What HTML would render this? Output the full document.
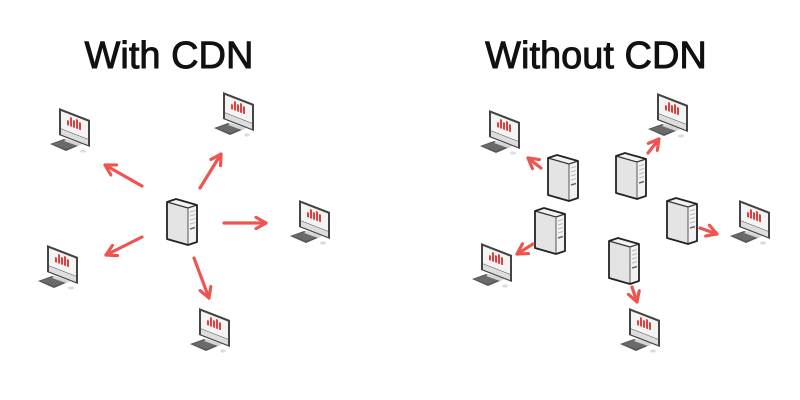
<!DOCTYPE html>
<html><head><meta charset="utf-8"><style>
html,body{margin:0;padding:0;background:#fff;width:800px;height:400px;overflow:hidden}
svg{display:block}
</style></head><body>
<svg width="800" height="400" viewBox="0 0 800 400" xmlns="http://www.w3.org/2000/svg">
<defs>
<symbol id="pc" viewBox="0 0 46 50" width="46" height="50" overflow="visible">
  <polygon points="0,36 14,31 30,37 16,43" fill="#555"/>
  <polygon points="2,36 14,32 27,37 16,41" fill="#6a6a6a"/>
  <ellipse cx="33" cy="43" rx="3" ry="1.6" fill="#ddd"/>
  <polygon points="20,27 28,30 28,34 20,31" fill="#bbb"/>
  <polygon points="17,31 32,36 28,38 14,33" fill="#d4d4d4"/>
  <polygon points="9,0 40,12 40,39 9,27" fill="#444"/>
  <polygon points="11,3 38,13.5 38,31 11,20.5" fill="#f4f4f4"/>
  <polygon points="11,21 38,31.5 38,37 11,26.5" fill="#ddd"/>
  <g fill="#e0403c">
    <polygon points="17,12 19,12.8 19,17.8 17,17"/>
    <polygon points="20,9 22,9.8 22,18.9 20,18.1"/>
    <polygon points="23,12 25,12.8 25,20 23,19.2"/>
    <polygon points="26,11 28,11.8 28,21.2 26,20.4"/>
    <polygon points="29,14 31,14.8 31,22.3 29,21.5"/>
  </g>
</symbol>
<symbol id="srv" viewBox="0 0 32 48" width="32" height="48" overflow="visible">
  <polygon points="1,4 10,1 31,7 31,44 22,47 1,41" fill="#f2f2f2"/>
  <polygon points="1,4 22,10 22,47 1,41" fill="#e4e4e4"/>
  <polyline points="1,4 22,10 31,7" fill="none" stroke="#333" stroke-width="1.2"/>
  <line x1="22" y1="10" x2="22" y2="47" stroke="#555" stroke-width="1"/>
  <polygon points="1,4 10,1 31,7 31,44 22,47 1,41" fill="none" stroke="#222" stroke-width="1.8" stroke-linejoin="round"/>
  <g stroke="#bbb" stroke-width="1">
    <line x1="24" y1="14" x2="29" y2="12.5"/>
    <line x1="24" y1="18" x2="29" y2="16.5"/>
    <line x1="24" y1="22" x2="29" y2="20.5"/>
    <line x1="24" y1="26" x2="29" y2="24.5"/>
  </g>
  <line x1="24" y1="31" x2="29" y2="29.5" stroke="#666" stroke-width="1.5"/>
</symbol>
<marker id="ah" viewBox="0 0 10 10" refX="8" refY="5" markerWidth="4.5" markerHeight="4.5" orient="auto">
  <path d="M1,1 L8,5 L1,9" fill="none" stroke="#ee5550" stroke-width="2.2" stroke-linecap="round" stroke-linejoin="round"/>
</marker>
</defs>

<g font-family="Liberation Sans, sans-serif" font-size="38" fill="#111" stroke="#111" stroke-width="0.9" text-anchor="middle">
  <text x="169" y="68">With CDN</text>
  <text x="596" y="68">Without CDN</text>
</g>

<!-- Left panel -->
<use href="#pc" x="50" y="108"/>
<use href="#pc" x="214" y="92"/>
<use href="#pc" x="290" y="200"/>
<use href="#pc" x="38" y="245"/>
<use href="#pc" x="190" y="308"/>
<use href="#srv" x="166" y="198"/>

<g stroke="#ee5550" stroke-width="3.2" stroke-linecap="round" fill="none" marker-end="url(#ah)">
  <line x1="142" y1="186" x2="105" y2="165"/>
  <line x1="200" y1="188" x2="221" y2="154"/>
  <line x1="224" y1="223" x2="266" y2="223"/>
  <line x1="142" y1="237" x2="106" y2="255"/>
  <line x1="194" y1="258" x2="209" y2="298"/>
</g>

<!-- Right panel -->
<use href="#pc" x="480" y="110"/>
<use href="#pc" x="648" y="93"/>
<use href="#pc" x="730" y="200"/>
<use href="#pc" x="472" y="243"/>
<use href="#pc" x="620" y="308"/>
<use href="#srv" x="547" y="154"/>
<use href="#srv" x="615" y="152"/>
<use href="#srv" x="534" y="207"/>
<use href="#srv" x="666" y="197"/>
<use href="#srv" x="608" y="237"/>

<g stroke="#ee5550" stroke-width="3.2" stroke-linecap="round" fill="none" marker-end="url(#ah)">
  <line x1="541" y1="168" x2="528" y2="158"/>
  <line x1="648" y1="153" x2="659" y2="139"/>
  <line x1="533" y1="244" x2="517" y2="254"/>
  <line x1="700" y1="228" x2="717" y2="234"/>
  <line x1="632" y1="287" x2="637" y2="302"/>
</g>
</svg>
</body></html>
